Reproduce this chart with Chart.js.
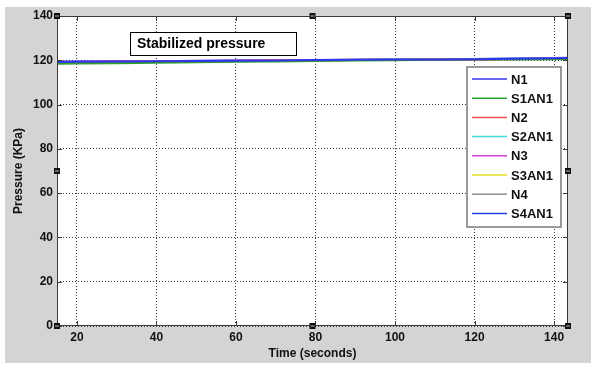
<!DOCTYPE html>
<html>
<head>
<meta charset="utf-8">
<script src="https://cdn.jsdelivr.net/npm/chart.js@4/dist/chart.umd.min.js"></script>
<style>
  html, body { margin: 0; padding: 0; background: #ffffff; }
  #wrap { width: 599px; height: 365px; position: relative; }
</style>
</head>
<body>
<div id="wrap"><canvas id="pressure-chart" width="599" height="365"></canvas></div>
<script>
// Time samples (seconds)
const timeValues = [15, 20, 30, 40, 50, 60, 70, 80, 90, 100, 110, 120, 130, 140, 143.5];

// Pressure readings (KPa)
const n1    = [119.2, 119.3, 119.4, 119.6, 119.7, 119.8, 119.9, 120.1, 120.2, 120.3, 120.4, 120.5, 120.7, 120.9, 121.0];
const s1an1 = [118.4, 118.5, 118.7, 118.9, 119.1, 119.3, 119.5, 119.7, 119.9, 120.0, 120.2, 120.3, 120.4, 120.5, 120.6];
const n2    = [119.0, 119.1, 119.3, 119.5, 119.6, 119.7, 119.9, 120.0, 120.1, 120.2, 120.3, 120.4, 120.6, 120.7, 120.8];
const s2an1 = [118.8, 118.9, 119.1, 119.3, 119.5, 119.6, 119.8, 119.9, 120.1, 120.3, 120.5, 120.6, 120.7, 120.8, 120.8];
const n3    = [119.1, 119.2, 119.4, 119.5, 119.7, 119.8, 119.9, 120.0, 120.1, 120.2, 120.4, 120.5, 120.6, 120.8, 120.9];
const s3an1 = [118.9, 119.0, 119.2, 119.4, 119.5, 119.7, 119.8, 120.0, 120.1, 120.2, 120.3, 120.5, 120.6, 120.7, 120.8];
const n4    = [119.0, 119.2, 119.4, 119.5, 119.6, 119.8, 119.9, 120.0, 120.2, 120.3, 120.3, 120.4, 120.6, 120.7, 120.8];
const s4an1 = [119.3, 119.4, 119.5, 119.6, 119.8, 119.9, 120.0, 120.1, 120.2, 120.4, 120.5, 120.6, 120.8, 121.0, 121.1];

const seriesNames  = ['N1', 'S1AN1', 'N2', 'S2AN1', 'N3', 'S3AN1', 'N4', 'S4AN1'];
const seriesValues = [n1, s1an1, n2, s2an1, n3, s3an1, n4, s4an1];
const seriesColors = ['#3333ee', '#2ca02c', '#ff5050', '#40d8d8', '#d040d0', '#e0e020', '#909090', '#2040e0'];

const xTicks = [20, 40, 60, 80, 100, 120, 140];
const yTicks = [0, 20, 40, 60, 80, 100, 120, 140];

const annotationText = 'Stabilized pressure';
const xTitle = 'Time (seconds)';
const yTitle = 'Pressure (KPa)';

const FONT = '"Liberation Sans", Arial, sans-serif';

// Background, frame, inward ticks, handles, titles, annotation and legend
const matlabLook = {
    id: 'matlabLook',
    beforeDraw(chart) {
        const ctx = chart.ctx;
        const a = chart.chartArea;
        ctx.save();
        ctx.fillStyle = '#ffffff';
        ctx.fillRect(0, 0, chart.width, chart.height);
        ctx.fillStyle = '#d4d4d4';
        ctx.fillRect(5, 7, 586, 356);
        ctx.fillStyle = '#ffffff';
        ctx.fillRect(a.left, a.top, a.right - a.left, a.bottom - a.top);
        ctx.restore();
    },
    afterDraw(chart) {
        const ctx = chart.ctx;
        const a = chart.chartArea;
        const xs = chart.scales.x;
        const ys = chart.scales.y;
        ctx.save();

        // frame
        ctx.strokeStyle = '#3a3a3a';
        ctx.lineWidth = 1;
        ctx.strokeRect(a.left + 0.5, a.top + 0.5, a.right - a.left - 1, a.bottom - a.top - 1);

        // inward ticks
        ctx.beginPath();
        xTicks.forEach(v => {
            const px = Math.round(xs.getPixelForValue(v)) + 0.5;
            ctx.moveTo(px, a.bottom); ctx.lineTo(px, a.bottom - 5);
            ctx.moveTo(px, a.top); ctx.lineTo(px, a.top + 5);
        });
        yTicks.forEach(v => {
            const py = Math.round(ys.getPixelForValue(v)) + 0.5;
            ctx.moveTo(a.left, py); ctx.lineTo(a.left + 5, py);
            ctx.moveTo(a.right, py); ctx.lineTo(a.right - 5, py);
        });
        ctx.stroke();

        // selection handles
        const midX = (a.left + a.right) / 2;
        const midY = (a.top + a.bottom) / 2;
        const handles = [
            [a.left, a.top], [midX, a.top], [a.right, a.top],
            [a.left, midY], [a.right, midY],
            [a.left, a.bottom], [midX, a.bottom], [a.right, a.bottom]
        ];
        handles.forEach(([hx, hy]) => {
            ctx.fillStyle = '#111111';
            ctx.fillRect(hx - 3, hy - 3, 6, 6);
            ctx.fillStyle = '#bbbbbb';
            ctx.fillRect(hx - 2, hy - 0.5, 4, 1);
        });

        // axis titles
        ctx.fillStyle = '#111111';
        ctx.font = 'bold 12px ' + FONT;
        ctx.textAlign = 'center';
        ctx.textBaseline = 'middle';
        ctx.fillText(xTitle, midX, 354);
        ctx.translate(19, midY);
        ctx.rotate(-Math.PI / 2);
        ctx.fillText(yTitle, 0, 0);
        ctx.setTransform(1, 0, 0, 1, 0, 0);

        // annotation box
        ctx.fillStyle = '#ffffff';
        ctx.fillRect(130, 32, 166, 23);
        ctx.strokeStyle = '#000000';
        ctx.lineWidth = 1;
        ctx.strokeRect(130.5, 32.5, 166, 23);
        ctx.fillStyle = '#000000';
        ctx.font = 'bold 14px ' + FONT;
        ctx.textAlign = 'left';
        ctx.fillText(annotationText, 137, 44);

        // legend
        const lx = 467, ly = 67, lw = 94, lh = 160;
        ctx.fillStyle = '#ffffff';
        ctx.fillRect(lx, ly, lw, lh);
        ctx.strokeStyle = '#7a7a7a';
        ctx.lineWidth = 1.5;
        ctx.strokeRect(lx, ly, lw, lh);
        ctx.font = 'bold 13px ' + FONT;
        chart.data.datasets.forEach((ds, i) => {
            const ry = 79 + i * 19.2;
            ctx.strokeStyle = ds.borderColor;
            ctx.lineWidth = 1.5;
            ctx.beginPath();
            ctx.moveTo(472, ry);
            ctx.lineTo(507, ry);
            ctx.stroke();
            ctx.fillStyle = '#111111';
            ctx.fillText(ds.label, 511, ry + 1);
        });
        ctx.restore();
    }
};

const chart = new Chart(document.getElementById('pressure-chart'), {
    type: 'line',
    data: {
        datasets: seriesNames.map((name, i) => ({
            label: name,
            data: timeValues.map((t, k) => ({ x: t, y: seriesValues[i][k] })),
            borderColor: seriesColors[i],
            borderWidth: 2,
            pointRadius: 0,
            fill: false,
            tension: 0
        }))
    },
    options: {
        responsive: false,
        animation: false,
        events: [],
        layout: { padding: { left: 0, top: 16, right: 31, bottom: 0 } },
        plugins: {
            legend: { display: false },
            tooltip: { enabled: false }
        },
        scales: {
            x: {
                type: 'linear',
                min: 15,
                max: 143.5,
                afterBuildTicks: s => { s.ticks = xTicks.map(v => ({ value: v })); },
                afterFit: s => { s.height = 39; },
                grid: { color: '#3a3a3a', lineWidth: 1, drawTicks: false },
                border: { display: false, dash: [1, 2] },
                ticks: {
                    padding: 4,
                    color: '#111111',
                    maxRotation: 0,
                    font: { family: FONT, size: 12, weight: 'bold' }
                }
            },
            y: {
                type: 'linear',
                min: 0,
                max: 140,
                afterBuildTicks: s => { s.ticks = yTicks.map(v => ({ value: v })); },
                afterFit: s => { s.width = 57; },
                grid: { color: '#3a3a3a', lineWidth: 1, drawTicks: false },
                border: { display: false, dash: [1, 2] },
                ticks: {
                    padding: 4,
                    color: '#111111',
                    font: { family: FONT, size: 12, weight: 'bold' }
                }
            }
        }
    },
    plugins: [matlabLook]
});
</script>
</body>
</html>
